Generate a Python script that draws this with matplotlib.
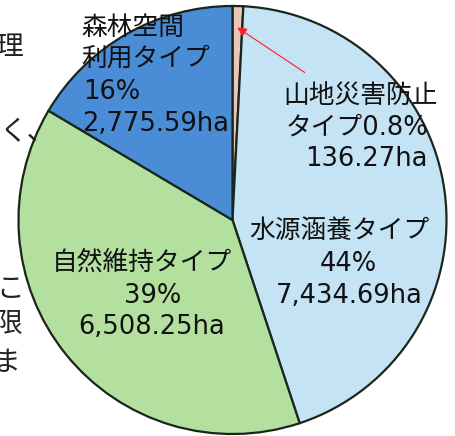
import matplotlib
matplotlib.use("Agg")
import matplotlib.pyplot as plt

plt.rcParams['font.family'] = ['DejaVu Sans', 'Noto Sans CJK JP']

categories = ["山地災害防止タイプ", "水源涵養タイプ", "自然維持タイプ", "森林空間利用タイプ"]
areas_ha = [136.27, 7434.69, 6508.25, 2775.59]
percent_labels = ["0.8%", "44%", "39%", "16%"]
colors = ["#e8c6ba", "#c4e3f5", "#b4e09f", "#4a8cd6"]

W, H = 456, 436
fig = plt.figure(figsize=(W / 100, H / 100), dpi=100)
ax = fig.add_axes([0, 0, 1, 1])

def py(y):
    return H - y

ax.pie(areas_ha, colors=colors, startangle=90, counterclock=False,
       center=(232.5, py(220)), radius=214, frame=True,
       wedgeprops=dict(edgecolor="#1a261a", linewidth=1.6))
ax.set_xlim(0, W)
ax.set_ylim(0, H)
ax.set_aspect("equal")
ax.axis("off")

fs = 18.5
txt = dict(fontsize=fs, color="#111111", va="center")

def fmt(v):
    return f"{v:,.2f}ha"

# 森林空間利用タイプ (left aligned)
ax.text(81, py(28), "森林空間", ha="left", **txt)
ax.text(81, py(59), "利用タイプ", ha="left", **txt)
ax.text(83, py(92), percent_labels[3], ha="left", **txt)
ax.text(82, py(124), fmt(areas_ha[3]), ha="left", **txt)

# 山地災害防止タイプ
ax.text(438, py(97), "山地災害防止", ha="right", **txt)
ax.text(428, py(128), "タイプ" + percent_labels[0], ha="right", **txt)
ax.text(428, py(159), fmt(areas_ha[0]), ha="right", **txt)

# 水源涵養タイプ
ax.text(339, py(231), categories[1], ha="center", **txt)
ax.text(348, py(264), percent_labels[1], ha="center", **txt)
ax.text(349, py(296), fmt(areas_ha[1]), ha="center", **txt)

# 自然維持タイプ
ax.text(142, py(263), categories[2], ha="center", **txt)
ax.text(153, py(296), percent_labels[2], ha="center", **txt)
ax.text(152, py(327), fmt(areas_ha[2]), ha="center", **txt)

# leader arrow
ax.annotate("", xy=(235, py(26)), xytext=(307, py(74)),
            arrowprops=dict(arrowstyle="-|>,head_length=0.55,head_width=0.28",
                            color="#ff2020", lw=0.8))

# cropped body text at left edge
side = dict(fontsize=20, color="#222222", va="center", ha="right")
ax.text(23, py(47), "理", **side)
ax.text(55, py(132), "く、", **side)
ax.text(24, py(289), "こ", **side)
ax.text(22, py(324), "限", **side)
ax.text(21, py(363), "ま", **side)

fig.savefig("out.png", dpi=100)
